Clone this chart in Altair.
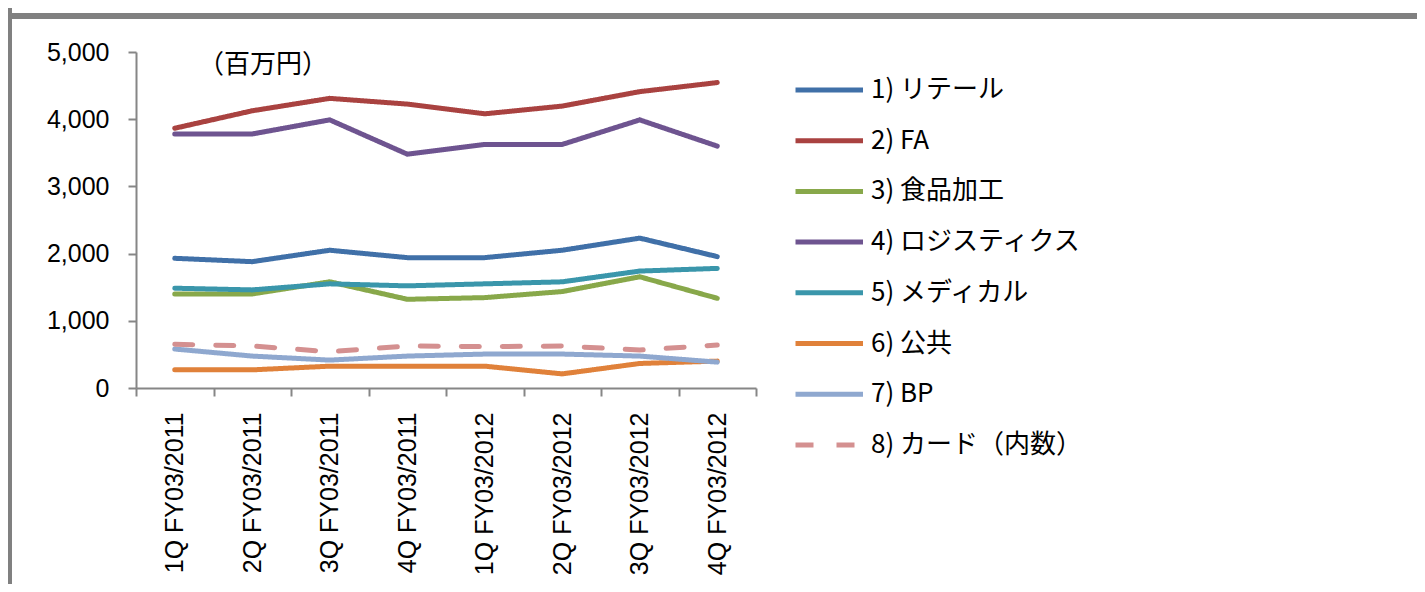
import altair as alt
import pandas as pd

quarters = ["1Q FY03/2011", "2Q FY03/2011", "3Q FY03/2011", "4Q FY03/2011",
            "1Q FY03/2012", "2Q FY03/2012", "3Q FY03/2012", "4Q FY03/2012"]

series_names = ["1) リテール", "2) FA", "3) 食品加工", "4) ロジスティクス",
                "5) メディカル", "6) 公共", "7) BP", "8) カード（内数）"]

retail = [1930, 1880, 2050, 1940, 1940, 2050, 2230, 1955]
fa = [3865, 4125, 4310, 4225, 4080, 4195, 4410, 4545]
food = [1400, 1400, 1580, 1320, 1345, 1435, 1655, 1335]
logistics = [3780, 3780, 3990, 3480, 3625, 3625, 3990, 3600]
medical = [1485, 1460, 1550, 1520, 1550, 1580, 1740, 1780]
public = [270, 270, 325, 325, 325, 210, 365, 400]
bp = [580, 475, 415, 475, 505, 505, 475, 385]
card = [650, 625, 540, 625, 615, 625, 565, 640]

all_series = [retail, fa, food, logistics, medical, public, bp, card]

colors = ["#4070A8", "#A94240", "#88A84A", "#6E5490",
          "#3A96AB", "#E0813A", "#8FA8CF", "#D49090"]
dashes = [[1, 0]] * 7 + [[18, 23]]

rows = []
for si, (name, vals) in enumerate(zip(series_names, all_series)):
    for q, v in zip(quarters, vals):
        rows.append({"quarter": q, "series": name, "value": v, "order": si})
df = pd.DataFrame(rows)

W, H = 620, 336
GRAY = "#868686"
JP = "Noto Sans CJK JP"
LAT = "Liberation Sans"

lines = alt.Chart(df).mark_line(strokeWidth=5, strokeCap="round", strokeJoin="round").encode(
    x=alt.X("quarter:N", sort=quarters, bandPosition=0.5,
            scale=alt.Scale(type="band", paddingInner=0, paddingOuter=0),
            axis=alt.Axis(title=None, tickBand="extent", labelAngle=270,
                          labelFont=LAT, labelFontSize=25, labelColor="black",
                          labelPadding=16, tickSize=8, tickColor=GRAY, tickWidth=2,
                          domainColor=GRAY, domainWidth=2, grid=False)),
    y=alt.Y("value:Q", scale=alt.Scale(domain=[0, 5000], nice=False),
            axis=alt.Axis(title=None, values=[0, 1000, 2000, 3000, 4000, 5000], format=",.0f",
                          labelFont=LAT, labelFontSize=25, labelColor="black",
                          labelPadding=19, tickSize=8, tickColor=GRAY, tickWidth=2,
                          domainColor=GRAY, domainWidth=2, grid=False)),
    color=alt.Color("series:N", sort=series_names,
                    scale=alt.Scale(domain=series_names, range=colors),
                    legend=alt.Legend(title=None)),
    strokeDash=alt.StrokeDash("series:N", sort=series_names,
                              scale=alt.Scale(domain=series_names, range=dashes),
                              legend=alt.Legend(title=None)),
    order=alt.Order("order:Q"),
    detail="series:N",
)

unit = alt.Chart(alt.Data(values=[{"t": "（百万円）"}])).mark_text(
    font=JP, fontSize=26, color="black", align="center", baseline="middle"
).encode(x=alt.value(127), y=alt.value(13), text="t:N")

frame_v = alt.Chart(alt.Data(values=[{}])).mark_rule(color="#808080", strokeWidth=5).encode(
    x=alt.value(-126.5), y=alt.value(-60), y2=alt.value(600))
frame_h = alt.Chart(alt.Data(values=[{}])).mark_rule(color="#808080", strokeWidth=6).encode(
    x=alt.value(-130), x2=alt.value(1300), y=alt.value(-36))

chart = alt.layer(frame_v, frame_h, lines, unit).properties(
    width=W, height=H,
    autosize=alt.AutoSizeParams(type="none"),
    padding={"left": 128, "top": 44, "right": 661, "bottom": 196},
).configure_view(strokeWidth=0).configure_legend(
    orient="none", legendX=657, legendY=22,
    symbolType="M-1,0H4", symbolSize=729, symbolStrokeWidth=5,
    labelFont=JP, labelFontSize=26, labelColor="black",
    labelOffset=46, rowPadding=21.7, padding=0, labelLimit=400,
)

chart.save("out.html", embed_options={"renderer": "svg", "actions": False})
